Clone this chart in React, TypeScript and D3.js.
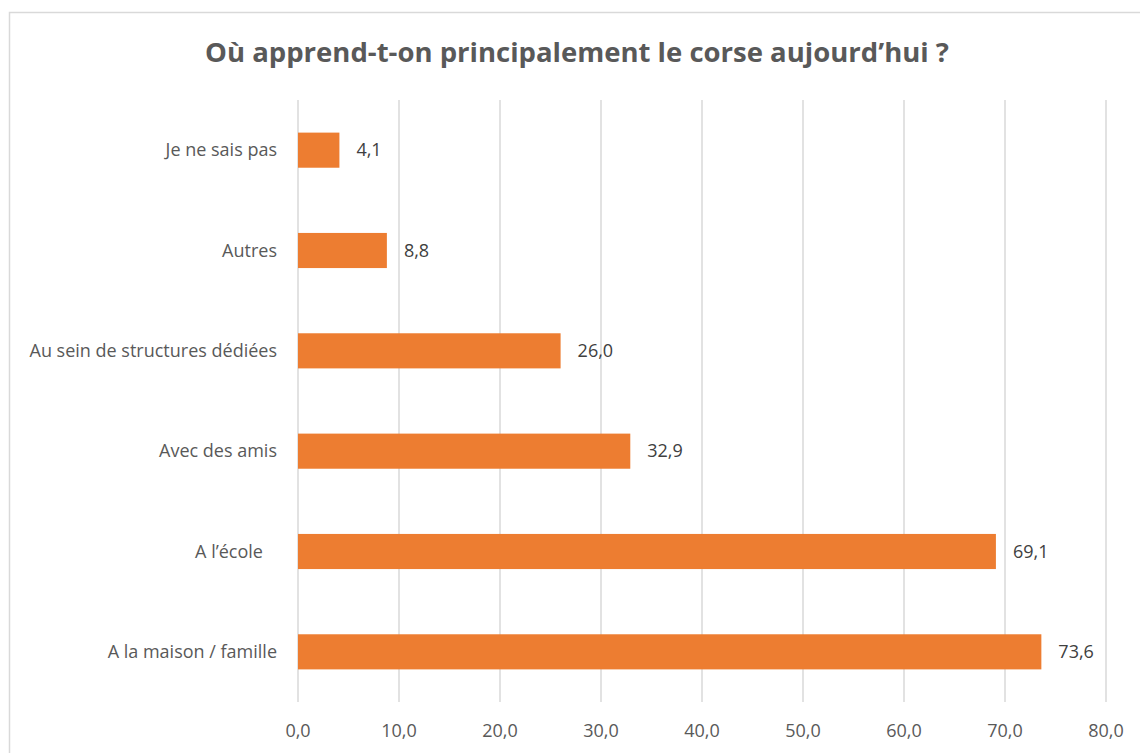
import React, { useRef, useEffect } from 'react';
import * as d3 from 'd3';

// data (top to bottom)
const categories = [
  'Je ne sais pas',
  'Autres',
  'Au sein de structures dédiées',
  'Avec des amis',
  'A l’école   ',
  'A la maison / famille',
];
const values = [4.1, 8.8, 26.0, 32.9, 69.1, 73.6];
const xTicks = [0, 10, 20, 30, 40, 50, 60, 70, 80];
const title = 'Où apprend-t-on principalement le corse aujourd’hui ?';

const fmt = (v: number) => v.toFixed(1).replace('.', ',');

const App = () => {
  const chart = useRef<SVGSVGElement>(null);

  useEffect(() => {
    const width = 1140,
      height = 753;
    const margin = { top: 100, right: 34, bottom: 51, left: 298 };

    const svg = d3.select(chart.current);
    svg.selectAll('*').remove();

    // chart frame
    svg
      .append('rect')
      .attr('x', 9.5)
      .attr('y', 12.5)
      .attr('width', 1145)
      .attr('height', 760)
      .attr('fill', '#fff')
      .attr('stroke', '#d9d9d9')
      .attr('stroke-width', 1.5);

    var x = d3
      .scaleLinear()
      .domain([0, 80])
      .range([margin.left, width - margin.right]);

    var y = d3
      .scaleBand()
      .domain(categories)
      .range([margin.top, height - margin.bottom])
      .paddingInner(0.65)
      .paddingOuter(0.325);

    // gridlines
    svg
      .append('g')
      .selectAll('line')
      .data(xTicks)
      .enter()
      .append('line')
      .attr('x1', (d) => x(d))
      .attr('x2', (d) => x(d))
      .attr('y1', margin.top)
      .attr('y2', height - margin.bottom)
      .attr('stroke', '#d9d9d9')
      .attr('stroke-width', 1.5);

    // tick labels
    svg
      .append('g')
      .selectAll('text')
      .data(xTicks)
      .enter()
      .append('text')
      .attr('x', (d) => x(d))
      .attr('y', 737)
      .attr('text-anchor', 'middle')
      .attr('fill', '#595959')
      .style('font-size', '18px')
      .text((d) => fmt(d));

    // bars
    svg
      .append('g')
      .selectAll('rect')
      .data(values)
      .enter()
      .append('rect')
      .attr('x', x(0))
      .attr('y', (d, i) => y(categories[i])!)
      .attr('width', (d) => x(d) - x(0))
      .attr('height', y.bandwidth())
      .attr('fill', '#ed7d31');

    // value labels
    svg
      .append('g')
      .selectAll('text')
      .data(values)
      .enter()
      .append('text')
      .attr('x', (d) => x(d) + 17)
      .attr('y', (d, i) => y(categories[i])! + y.bandwidth() / 2)
      .attr('dy', '0.35em')
      .attr('fill', '#404040')
      .style('font-size', '18px')
      .text((d) => fmt(d));

    // category labels
    svg
      .append('g')
      .selectAll('text')
      .data(categories)
      .enter()
      .append('text')
      .attr('x', margin.left - 21)
      .attr('y', (d) => y(d)! + y.bandwidth() / 2)
      .attr('dy', '0.35em')
      .attr('text-anchor', 'end')
      .attr('fill', '#595959')
      .style('font-size', '18px')
      .style('white-space', 'pre')
      .text((d) => d);

    // title
    svg
      .append('text')
      .attr('x', 577)
      .attr('y', 62)
      .attr('text-anchor', 'middle')
      .attr('fill', '#595959')
      .style('font-size', '27.5px')
      .style('font-weight', 'bold')
      .text(title);
  }, []);

  return (
    <svg
      ref={chart}
      width={1140}
      height={753}
      style={{ position: 'absolute', left: 0, top: 0, fontFamily: 'Open Sans, sans-serif' }}
    ></svg>
  );
};

export default App;
